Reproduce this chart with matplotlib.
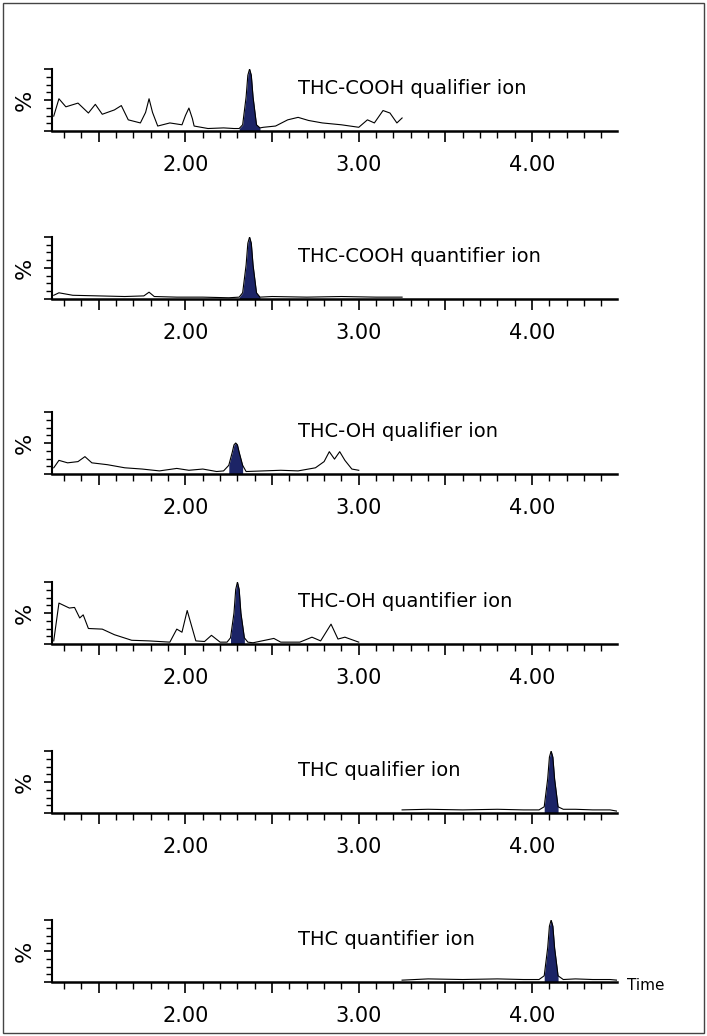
import numpy as np
import matplotlib
matplotlib.use("Agg")
import matplotlib.pyplot as plt
from matplotlib.patches import Rectangle

titles = ["THC-COOH qualifier ion", "THC-COOH quantifier ion", "THC-OH qualifier ion",
          "THC-OH quantifier ion", "THC qualifier ion", "THC quantifier ion"]
tick_labels = ["", "2.00", "", "3.00", "", "4.00"]

# traces: (time, % intensity)
t1 = [1.24,1.27,1.31,1.38,1.44,1.48,1.52,1.59,1.63,1.67,1.74,1.77,1.79,1.81,1.84,1.91,1.98,2.00,2.02,2.04,2.05,2.13,2.22,2.28,2.31,2.33,2.35,2.36,2.37,2.38,2.39,2.41,2.43,2.45,2.52,2.59,2.65,2.71,2.79,2.90,3.00,3.05,3.09,3.14,3.18,3.22,3.25]
v1 = [24,52,39,45,29,43,27,34,41,18,13,30,52,30,8,13,10,25,37,20,8,4,5,4,4,10,55,90,100,90,55,10,5,6,8,18,22,17,13,10,6,18,13,33,29,13,21]
t2 = [1.24,1.27,1.35,1.50,1.65,1.76,1.79,1.82,1.95,2.10,2.25,2.31,2.33,2.35,2.36,2.37,2.38,2.39,2.41,2.43,2.50,2.70,2.90,3.10,3.25]
v2 = [6,10,6,5,4,5,11,4,3,3,2,3,10,55,90,100,90,55,10,3,4,3,4,3,3]
t3 = [1.24,1.27,1.32,1.38,1.42,1.46,1.55,1.65,1.75,1.85,1.95,2.02,2.10,2.18,2.22,2.25,2.27,2.28,2.29,2.30,2.31,2.33,2.35,2.45,2.55,2.65,2.75,2.80,2.83,2.86,2.89,2.92,2.96,3.00]
v3 = [10,22,18,20,28,18,15,10,8,5,9,6,8,4,5,14,35,47,50,47,35,14,4,5,6,5,10,20,36,24,36,22,8,6]
t4 = [1.24,1.27,1.33,1.36,1.39,1.41,1.44,1.52,1.59,1.69,1.79,1.91,1.95,1.98,2.01,2.06,2.11,2.15,2.20,2.24,2.26,2.28,2.29,2.30,2.31,2.32,2.34,2.36,2.39,2.51,2.55,2.66,2.73,2.78,2.84,2.88,2.92,3.00]
v4 = [5,66,58,59,42,47,25,24,15,6,5,3,24,19,54,5,4,14,3,3,10,50,88,100,88,50,10,3,2,9,3,3,11,5,32,8,11,3]
t5 = [3.25,3.40,3.60,3.80,3.95,4.04,4.07,4.09,4.10,4.11,4.12,4.13,4.15,4.18,4.25,4.35,4.45,4.49]
v5 = [5,6,5,6,5,5,10,55,90,100,90,55,10,6,6,5,5,3]
t6 = [3.25,3.40,3.60,3.80,3.95,4.04,4.07,4.09,4.10,4.11,4.12,4.13,4.15,4.18,4.25,4.35,4.45,4.49]
v6 = [3,5,4,5,4,4,10,55,90,100,90,55,10,4,5,4,4,3]
peak_windows = [(2.31,2.43),(2.31,2.43),(2.25,2.33),(2.26,2.34),(4.07,4.15),(4.07,4.15)]

traces = [(t1,v1),(t2,v2),(t3,v3),(t4,v4),(t5,v5),(t6,v6)]
baselines = [131,299,474,644,813,982]

W, H = 707, 1036
fig = plt.figure(figsize=(W/100, H/100), dpi=100)
fig.patches.append(Rectangle((3/W, 3/H), 1-6/W, 1-6/H, transform=fig.transFigure,
                             fill=False, edgecolor="#444444", linewidth=1.0))
for i, ((t, v), title, (a, b)) in enumerate(zip(traces, titles, peak_windows)):
    base = baselines[i]
    ax = fig.add_axes([52/W, 1-base/H, (617-52)/W, 62/H])
    t = np.array(t); v = np.array(v)
    ax.plot(t, v, color="black", lw=0.8)
    m = (t >= a) & (t <= b)
    ax.fill_between(t[m], 0, v[m], color="#1c2466", lw=0)
    ax.set_xlim(1.23, 4.49)
    ax.set_ylim(0, 100)
    ax.set_xticks(np.arange(1.3, 4.5, 0.1), minor=True)
    ax.set_xticks([1.5, 2, 2.5, 3, 3.5, 4])
    ax.set_xticklabels(tick_labels, fontsize=15)
    ax.set_yticks([0, 50, 100])
    ax.set_yticks(np.arange(0, 101, 12.5), minor=True)
    ax.set_yticklabels([])
    ax.tick_params(axis="x", which="major", length=8, width=1.2, pad=9)
    ax.tick_params(axis="x", which="minor", length=5, width=1)
    ax.tick_params(axis="y", which="major", length=6, width=1.2)
    ax.tick_params(axis="y", which="minor", length=4, width=1)
    for s in ["top", "right"]:
        ax.spines[s].set_visible(False)
    ax.spines["left"].set_linewidth(1.5)
    ax.spines["bottom"].set_linewidth(1.8)
    ax.set_ylabel("%", fontsize=16, labelpad=3)
    ax.text(2.65, 68, title, fontsize=14, va="center", ha="left")
    ax.patch.set_alpha(0)
fig.text(627/W, 1-986/H, "Time", fontsize=11, va="center")
fig.savefig("out.png", dpi=100)
